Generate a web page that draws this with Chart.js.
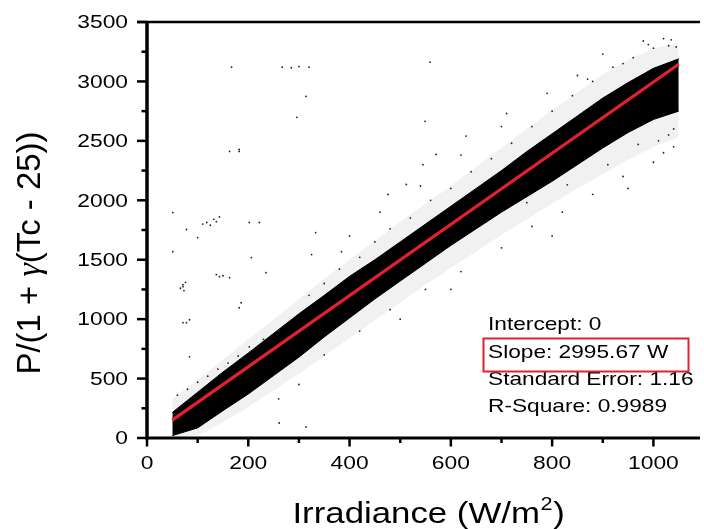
<!DOCTYPE html>
<html>
<head>
<meta charset="utf-8">
<title>Power vs Irradiance</title>
<script src="https://cdn.jsdelivr.net/npm/chart.js@4.4.1/dist/chart.umd.min.js"></script>
<style>
    html, body { margin: 0; padding: 0; background: #fff; }
    canvas { display: block; }
</style>
</head>
<body>
<canvas id="chart" width="704" height="529"></canvas>
<script>
/* ============================================
   P/(1 + gamma(Tc - 25)) vs Irradiance
   ============================================ */

// dense cloud
const bandX     = [50, 100, 150, 200, 250, 300, 350, 400, 450, 500, 550, 600, 650, 700, 750, 800, 850, 900, 950, 1000, 1050];
const bandUpper = [215, 385, 555, 715, 880, 1045, 1200, 1360, 1500, 1650, 1800, 1950, 2100, 2250, 2410, 2560, 2710, 2860, 2990, 3110, 3190];
const bandLower = [20, 85, 230, 370, 525, 680, 850, 1010, 1170, 1320, 1470, 1620, 1760, 1900, 2030, 2160, 2300, 2440, 2570, 2680, 2750];

// sparse speckle around the cloud
const haloUpper = [330, 490, 660, 830, 1000, 1170, 1340, 1500, 1660, 1820, 1970, 2120, 2280, 2440, 2600, 2760, 2910, 3060, 3180, 3280, 3320];
const haloLower = [0, 20, 130, 260, 400, 540, 690, 840, 990, 1140, 1290, 1430, 1570, 1710, 1840, 1970, 2100, 2220, 2340, 2450, 2530];

// isolated points
const outlierX = [51, 78, 100, 118, 110, 125, 132, 143, 137, 51, 202, 222, 333, 384, 476, 549, 559, 571, 512, 325,
                  206, 235, 186, 84, 71, 66, 76, 73, 143, 137, 150, 163, 71, 84, 182, 163, 182, 167, 267, 285,
                  300, 320, 314, 296, 182, 78, 314, 261, 71,
                  60, 80, 100, 120, 140, 160, 180, 202, 230, 260,
                  320, 350, 380, 420, 450, 480, 520, 560, 600, 640, 680, 720, 760, 800, 840, 880, 920, 960, 1000, 1030,
                  980, 900, 850, 700, 620, 540, 460, 400,
                  350, 420, 480, 550, 620, 700, 760, 820, 880, 940, 1000, 1040, 600, 800, 950, 1020, 500, 260, 300,
                  1045, 1040, 1035, 1030, 1020, 1010, 990, 970, 940, 910, 870, 830, 790, 750, 710, 670, 630, 590, 545, 505];
const outlierY = [1897, 1754, 1686, 1813, 1800, 1790, 1840, 1860, 1820, 1568, 1813, 1813, 1728, 1568, 2049, 2664, 3162, 2386, 2133, 1543,
                  1518, 1391, 1138, 995, 1290, 1260, 1310, 1240, 1357, 1374, 1365, 1349, 970, 683, 1096, 2411, 2411, 3120, 3120, 3115,
                  3125, 3120, 2875, 2698, 2428, 970, 93, 126, 1273,
                  360, 410, 470, 520, 580, 630, 690, 767, 830, 900,
                  1200, 1300, 1420, 1520, 1650, 1760, 1850, 2000, 2100, 2240, 2350, 2480, 2620, 2750, 2880, 3000, 3120, 3200, 3280, 3300,
                  3340, 3230, 3050, 2620, 2380, 2120, 1900, 1700,
                  700, 900, 1080, 1250, 1400, 1600, 1780, 1900, 2050, 2200, 2320, 2450, 1250, 1700, 2100, 2400, 1000, 330, 450,
                  3290, 2600, 3350, 2550, 3360, 2500, 3310, 2470, 3150, 2300, 3020, 2130, 2900, 1980, 2730, 1820, 2540, 1700, 2300, 1430];

// linear fit through the origin
const fitX = [50, 1050];
const fitY = [150, 3145];

const xMajorTicks = [0, 200, 400, 600, 800, 1000];
const xMinorTicks = [100, 300, 500, 700, 900];
const yMajorTicks = [0, 500, 1000, 1500, 2000, 2500, 3000, 3500];
const yMinorTicks = [250, 750, 1250, 1750, 2250, 2750, 3250];

const fitLabels = ['Intercept: 0', 'Slope: 2995.67 W', 'Standard Error: 1.16', 'R-Square: 0.9989'];

const FONT = '"Liberation Sans", Arial, sans-serif';
const RED = '#e3202e';

function toPoints(xs, ys) {
    return xs.map((x, i) => ({ x: x, y: ys[i] }));
}

// text with a horizontal stretch, the scan is a bit wide
function stretchText(ctx, text, x, y, size, sx, align, baseline) {
    ctx.save();
    ctx.font = size + 'px ' + FONT;
    ctx.textAlign = align;
    ctx.textBaseline = baseline;
    ctx.translate(x, y);
    ctx.scale(sx, 1);
    ctx.fillText(text, 0, 0);
    ctx.restore();
}

const framePlugin = {
    id: 'frame',
    afterDraw(chart) {
        const ctx = chart.ctx;
        const xs = chart.scales.x;
        const ys = chart.scales.y;
        const area = chart.chartArea;
        const x0 = xs.getPixelForValue(0);
        const yBase = ys.getPixelForValue(0);
        const yTop = ys.getPixelForValue(3500);

        ctx.save();
        ctx.strokeStyle = '#000';
        ctx.fillStyle = '#000';
        ctx.lineCap = 'butt';

        // spines
        ctx.lineWidth = 3.5;
        ctx.beginPath();
        ctx.moveTo(x0, yTop - 1);
        ctx.lineTo(x0, yBase + 1.5);
        ctx.stroke();
        ctx.lineWidth = 3;
        ctx.beginPath();
        ctx.moveTo(x0 - 1.5, yBase);
        ctx.lineTo(area.right, yBase);
        ctx.stroke();
        ctx.lineWidth = 2.5;
        ctx.beginPath();
        ctx.moveTo(x0 - 10, yTop);
        ctx.lineTo(area.right, yTop);
        ctx.stroke();

        // ticks
        ctx.lineWidth = 2.5;
        yMajorTicks.forEach(v => {
            const p = ys.getPixelForValue(v);
            ctx.beginPath(); ctx.moveTo(x0 - 10, p); ctx.lineTo(x0, p); ctx.stroke();
        });
        yMinorTicks.forEach(v => {
            const p = ys.getPixelForValue(v);
            ctx.beginPath(); ctx.moveTo(x0 - 5.5, p); ctx.lineTo(x0, p); ctx.stroke();
        });
        xMajorTicks.forEach(v => {
            const p = xs.getPixelForValue(v);
            ctx.beginPath(); ctx.moveTo(p, yBase); ctx.lineTo(p, yBase + 8.5); ctx.stroke();
        });
        xMinorTicks.forEach(v => {
            const p = xs.getPixelForValue(v);
            ctx.beginPath(); ctx.moveTo(p, yBase); ctx.lineTo(p, yBase + 5); ctx.stroke();
        });

        // tick labels
        yMajorTicks.forEach(v => {
            stretchText(ctx, String(v), x0 - 19, ys.getPixelForValue(v) + 1, 19, 1.2, 'right', 'middle');
        });
        xMajorTicks.forEach(v => {
            stretchText(ctx, String(v), xs.getPixelForValue(v), yBase + 26, 19, 1.2, 'center', 'middle');
        });

        // x title with superscript
        ctx.save();
        const tSize = 29;
        const sx = 1.2;
        const partA = 'Irradiance (W/m';
        const partB = '2';
        const partC = ')';
        ctx.font = tSize + 'px ' + FONT;
        const wA = ctx.measureText(partA).width;
        const wC = ctx.measureText(partC).width;
        ctx.font = (tSize * 0.62) + 'px ' + FONT;
        const wB = ctx.measureText(partB).width;
        const total = (wA + wB + wC) * sx;
        ctx.translate(428 - total / 2, 523);
        ctx.scale(sx, 1);
        ctx.textAlign = 'left';
        ctx.textBaseline = 'alphabetic';
        ctx.font = tSize + 'px ' + FONT;
        ctx.fillText(partA, 0, 0);
        ctx.font = (tSize * 0.62) + 'px ' + FONT;
        ctx.fillText(partB, wA + 0.5, -13);
        ctx.font = tSize + 'px ' + FONT;
        ctx.fillText(partC, wA + wB + 1, 0);
        ctx.restore();

        // y title, rotated, gamma in italic
        ctx.save();
        const ySize = 27;
        const segs = [
            { t: 'P/(1 + ', f: ySize + 'px ' + FONT },
            { t: '\u03B3', f: 'italic ' + (ySize + 1) + 'px "Liberation Serif", serif' },
            { t: '(Tc - 25))', f: ySize + 'px ' + FONT }
        ];
        let yw = 0;
        segs.forEach(s => { ctx.font = s.f; s.w = ctx.measureText(s.t).width; yw += s.w; });
        const along = 243 / yw;
        ctx.translate(40, 253);
        ctx.rotate(-Math.PI / 2);
        ctx.scale(along, 1.22);
        ctx.textAlign = 'left';
        ctx.textBaseline = 'alphabetic';
        let cx = -yw / 2;
        segs.forEach(s => { ctx.font = s.f; ctx.fillText(s.t, cx, 0); cx += s.w; });
        ctx.restore();

        // fit results
        const lineY = [325, 353, 380, 407];
        fitLabels.forEach((t, i) => {
            stretchText(ctx, t, 488, lineY[i], 18.6, 1.22, 'left', 'middle');
        });
        ctx.strokeStyle = RED;
        ctx.lineWidth = 2;
        ctx.strokeRect(483.5, 338.5, 205, 33);

        ctx.restore();
    }
};

new Chart(document.getElementById('chart'), {
    type: 'scatter',
    data: {
        datasets: [
            {
                label: 'halo',
                type: 'line',
                data: toPoints(bandX, haloUpper),
                borderColor: 'rgba(0,0,0,0)',
                borderWidth: 0,
                backgroundColor: 'rgba(0,0,0,0.055)',
                pointRadius: 0,
                fill: '+1',
                order: 4
            },
            {
                label: 'halo low',
                type: 'line',
                data: toPoints(bandX, haloLower),
                borderColor: 'rgba(0,0,0,0)',
                borderWidth: 0,
                pointRadius: 0,
                fill: false,
                order: 4
            },
            {
                label: 'cloud',
                type: 'line',
                data: toPoints(bandX, bandUpper),
                borderColor: '#000',
                borderWidth: 1,
                backgroundColor: '#000',
                pointRadius: 0,
                fill: '+1',
                order: 3
            },
            {
                label: 'cloud low',
                type: 'line',
                data: toPoints(bandX, bandLower),
                borderColor: '#000',
                borderWidth: 1,
                pointRadius: 0,
                fill: false,
                order: 3
            },
            {
                label: 'outliers',
                data: toPoints(outlierX, outlierY),
                backgroundColor: '#222',
                borderWidth: 0,
                pointRadius: 0.9,
                order: 2
            },
            {
                label: 'fit',
                type: 'line',
                data: toPoints(fitX, fitY),
                borderColor: RED,
                borderWidth: 3.2,
                pointRadius: 0,
                fill: false,
                order: 1
            }
        ]
    },
    options: {
        responsive: false,
        animation: false,
        layout: { padding: { left: 147, top: 22, right: 0, bottom: 91 } },
        plugins: {
            legend: { display: false },
            tooltip: { enabled: false }
        },
        scales: {
            x: { type: 'linear', min: 0, max: 1092, display: false },
            y: { type: 'linear', min: 0, max: 3500, display: false }
        }
    },
    plugins: [framePlugin]
});
</script>
</body>
</html>
